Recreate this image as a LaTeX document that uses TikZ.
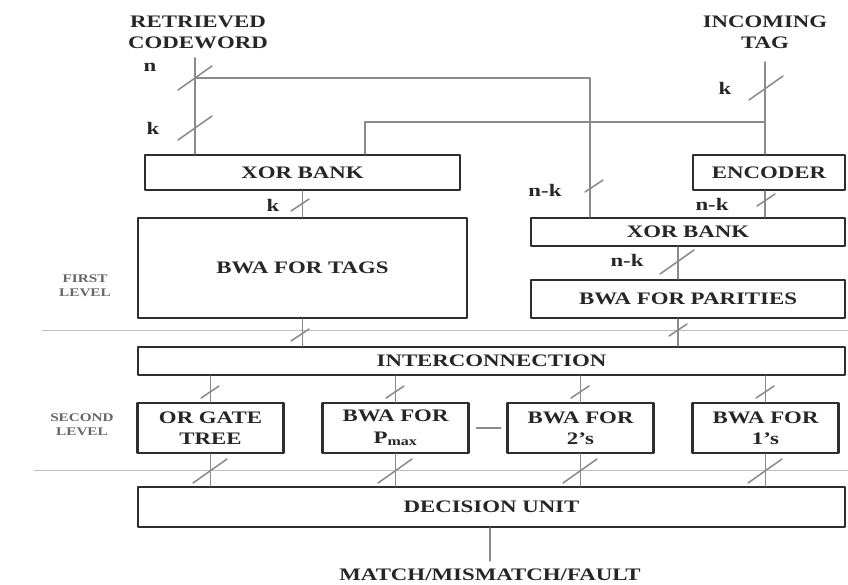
\documentclass[tikz,border=0pt]{standalone}
\usepackage{fontspec}
\setmainfont{Liberation Serif}[FakeStretch=1.3]
\usepackage{xcolor}
\definecolor{wire}{HTML}{8A8A8A}
\definecolor{frame}{HTML}{2E2E2E}

\begin{document}
\begin{tikzpicture}[x=0.03cm, y=-0.03cm, line join=round, line cap=round,
    blk/.style={draw=frame, line width=1.9pt, fill=white, inner sep=0pt, align=center,
        font=\fontsize{15}{18}\selectfont\bfseries, text=black!85},
    bus/.style={draw=wire, line width=1.3pt},
    sep/.style={draw=black!25, line width=0.8pt},
    lbl/.style={font=\fontsize{15}{18}\selectfont\bfseries, text=black!85, inner sep=0pt},
    lvl/.style={font=\fontsize{10}{12}\selectfont\bfseries, text=black!60, align=center},
    bigcut/.pic={\draw[bus] (-17,12) -- (17,-12);},
    smallcut/.pic={\draw[bus] (-9,6) -- (9,-6);}]

    \useasboundingbox (0,0) rectangle (848,584);

    % Inputs
    \node[lbl, align=center] (rc) at (198,32) {RETRIEVED\\CODEWORD};
    \node[lbl, align=center] (it) at (765,32) {INCOMING\\TAG};

    % First level blocks
    \node[blk, minimum width=9.45cm, minimum height=1.05cm] (xorL) at (302.5,172.5) {XOR BANK};
    \node[blk, minimum width=9.87cm, minimum height=3cm] (tags) at (302.5,268) {BWA FOR TAGS};
    \node[blk, minimum width=4.56cm, minimum height=1.05cm] (enc) at (769,172.5) {ENCODER};
    \node[blk, minimum width=9.42cm, minimum height=0.84cm] (xorR) at (688,232) {XOR BANK};
    \node[blk, minimum width=9.42cm, minimum height=1.14cm] (par) at (688,299) {BWA FOR PARITIES};

    % Interconnection
    \node[blk, minimum width=21.21cm, minimum height=0.84cm] (inter) at (491.5,361) {INTERCONNECTION};

    % Second level blocks
    \node[blk, minimum width=4.38cm, minimum height=1.5cm] (orT) at (210.5,428) {OR GATE\\TREE};
    \node[blk, minimum width=4.38cm, minimum height=1.5cm] (pmax) at (395.5,428) {BWA FOR\\P\textsubscript{max}};
    \node[blk, minimum width=4.38cm, minimum height=1.5cm] (two) at (580.5,428) {BWA FOR\\2's};
    \node[blk, minimum width=4.38cm, minimum height=1.5cm] (one) at (765.5,428) {BWA FOR\\1's};

    % Decision unit and output
    \node[blk, minimum width=21.21cm, minimum height=1.2cm] (dec) at (491.5,507) {DECISION UNIT};
    \node[lbl, outer ysep=7pt] (res) at (490,575) {MATCH/MISMATCH/FAULT};

    % Level separators
    \draw[sep] (42,330) -- (848,330);
    \draw[sep] (34,470) -- (848,470);
    \node[lvl] (lv1) at (85,286) {FIRST\\LEVEL};
    \node[lvl] (lv2) at (82,425) {SECOND\\LEVEL};

    % Wires at the top
    \coordinate (cwIn) at (195,58);
    \coordinate (cwTap) at (195,78);
    \coordinate (pTap) at (590,78);
    \coordinate (tgIn) at (765,62);
    \coordinate (tgTap) at (765,122);
    \coordinate (kTap) at (365,122);

    \draw[bus] (cwIn) -- (cwIn |- xorL.north);
    \draw[bus] (cwTap) -- (pTap) -- (pTap |- xorR.north);
    \draw[bus] (tgIn) -- (tgIn |- enc.north);
    \draw[bus] (tgTap) -- (kTap) -- (kTap |- xorL.north);
    \draw[bus] (tgIn |- enc.south) -- (tgIn |- xorR.north);
    \draw[bus] (xorL.south) -- (xorL.south |- tags.north);
    \draw[bus] (par.north -| 678,0) -- (xorR.south -| 678,0);

    % Wires into interconnection
    \draw[bus] (tags.south) -- (tags.south |- inter.north);
    \draw[bus] (par.south -| 678,0) -- (inter.north -| 678,0);

    % Wires of second level
    \foreach \b in {orT, pmax, two, one} {
        \draw[bus] (inter.south -| \b) -- (\b.north);
        \draw[bus] (\b.south) -- (dec.north -| \b);
    }
    \draw[bus] (pmax.east) ++(7,0) -- ++(24,0);
    \draw[bus] (dec.south -| res) -- (res.north);

    % Bus widths
    \pic at (195,78) {bigcut};
    \pic at (195,128) {bigcut};
    \pic at (766,88) {bigcut};
    \pic at (594,186) {smallcut};
    \pic at (766,200) {smallcut};
    \pic at (677,262) {bigcut};
    \pic at (300,205) {smallcut};
    \pic at (300,335) {smallcut};
    \pic at (678,330) {smallcut};
    \foreach \x in {210,395,580,765} {
        \pic at (\x,392) {smallcut};
        \pic at (\x,471) {bigcut};
    }

    \node[lbl] (nA) at (150,67) {n};
    \node[lbl] (kA) at (153,128) {k};
    \node[lbl] (kB) at (725,88) {k};
    \node[lbl] (nkA) at (545,190) {n-k};
    \node[lbl] (kC) at (273,205) {k};
    \node[lbl] (nkB) at (712,204) {n-k};
    \node[lbl] (nkC) at (627,260) {n-k};
\end{tikzpicture}
\end{document}
